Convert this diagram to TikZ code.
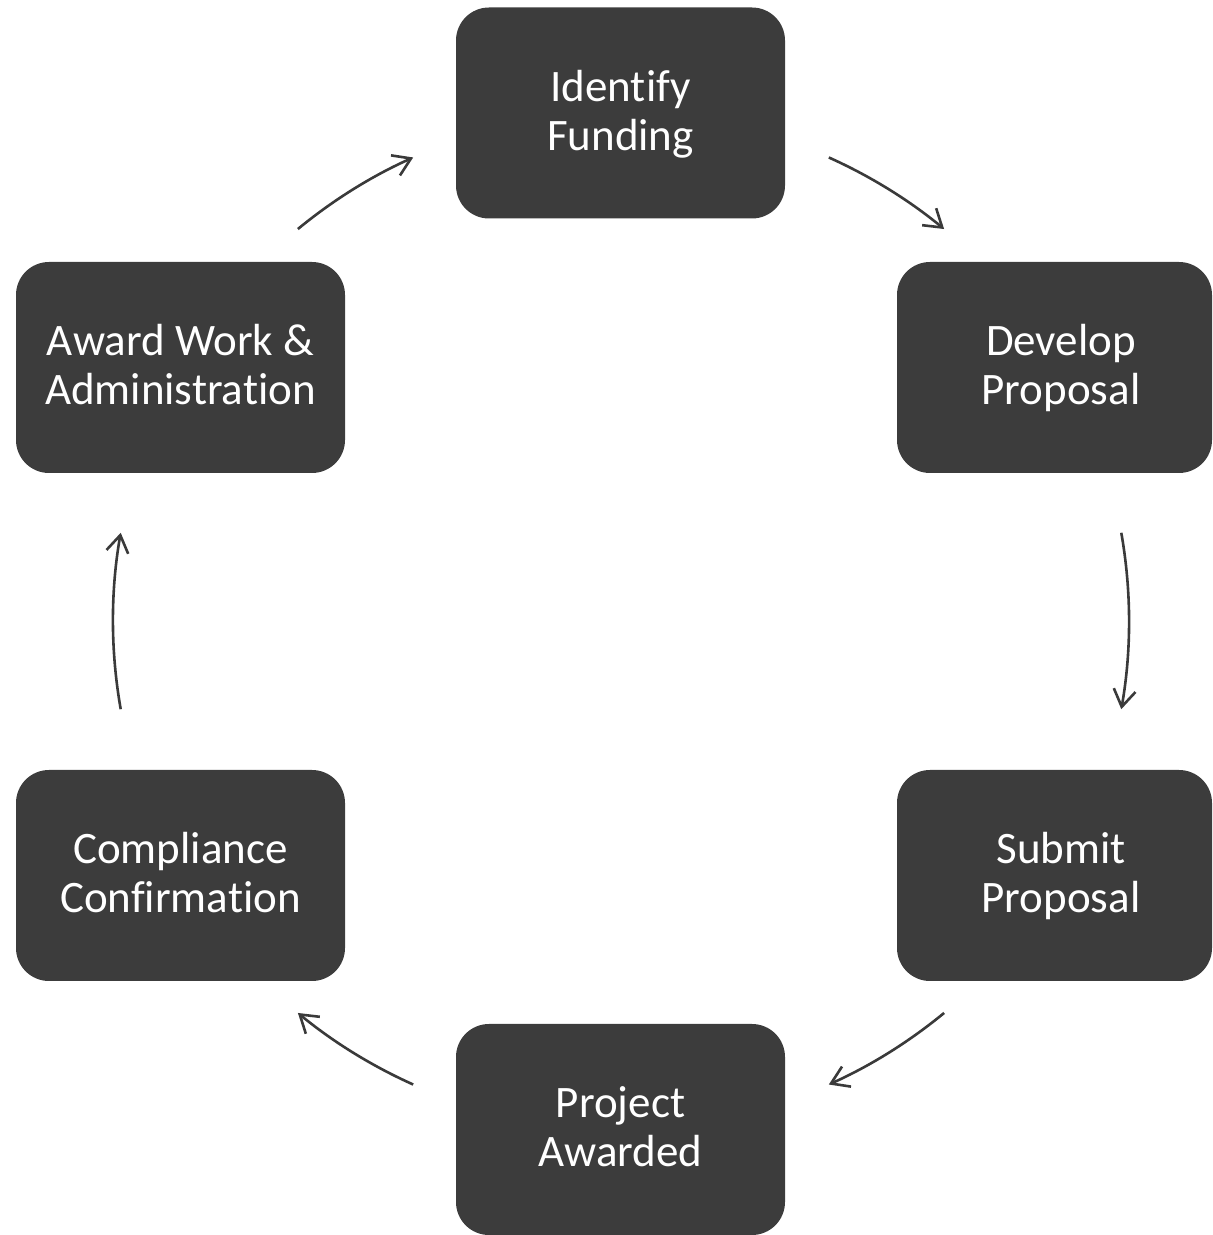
\documentclass[tikz,border=0pt]{standalone}
\usepackage{fontspec}
\setmainfont{Carlito}[Ligatures={NoCommon,NoContextual,NoRequired},Contextuals=NoAlternate]
\usetikzlibrary{arrows.meta}
\definecolor{boxgray}{HTML}{3C3C3C}
\definecolor{arrgray}{HTML}{3A3A3A}
\newcommand{\boxtext}[1]{\raisebox{-3pt}[\height][\depth]{\begin{tabular}{@{}c@{}}#1\end{tabular}}}
\tikzset{
  stepbox/.style={fill=boxgray, rounded corners=33pt, minimum width=329pt,
    minimum height=211pt, inner sep=0pt, text=white,
    font=\fontsize{45}{49}\selectfont},
  cyclearrow/.style={draw=arrgray, line width=2.6pt,
    -{Straight Barb[length=17pt,width=22pt]}},
}
\begin{document}
\begin{tikzpicture}[x=1pt,y=1pt]
\useasboundingbox (0,0) rectangle (1213,1235);
\coordinate (C) at (621,614);
% boxes
\node[stepbox] (ident) at (620.5,1122) {\boxtext{Identify\\Funding}};
\node[stepbox, minimum width=315pt] (dev) at (1054.5,867.5) {\hspace*{13pt}\boxtext{Develop\\Proposal}};
\node[stepbox, minimum width=315pt] (sub) at (1054.5,359.5) {\hspace*{13pt}\boxtext{Submit\\Proposal}};
\node[stepbox] (proj) at (620.5,105.5) {\boxtext{Project\\Awarded}};
\node[stepbox] (comp) at (180.5,359.5) {\boxtext{Compliance\\Confirmation}};
\node[stepbox] (award) at (180.5,867.5) {\boxtext{Award Work \&\\Administration}};
% arrow start points on the circle
\coordinate (s1) at ([shift={(65.85:508)}]C);
\coordinate (s2) at ([shift={(10:508)}]C);
\coordinate (s3) at ([shift={(-50.5:508)}]C);
\coordinate (s4) at ([shift={(-114.15:508)}]C);
\coordinate (s5) at ([shift={(190:508)}]C);
\coordinate (s6) at ([shift={(129.5:508)}]C);
\draw[cyclearrow] (s1) arc[start angle=65.85, end angle=50.5, radius=508];
\draw[cyclearrow] (s2) arc[start angle=10, end angle=-10, radius=508];
\draw[cyclearrow] (s3) arc[start angle=-50.5, end angle=-65.85, radius=508];
\draw[cyclearrow] (s4) arc[start angle=-114.15, end angle=-129.5, radius=508];
\draw[cyclearrow] (s5) arc[start angle=190, end angle=170, radius=508];
\draw[cyclearrow] (s6) arc[start angle=129.5, end angle=114.15, radius=508];
\end{tikzpicture}
\end{document}
